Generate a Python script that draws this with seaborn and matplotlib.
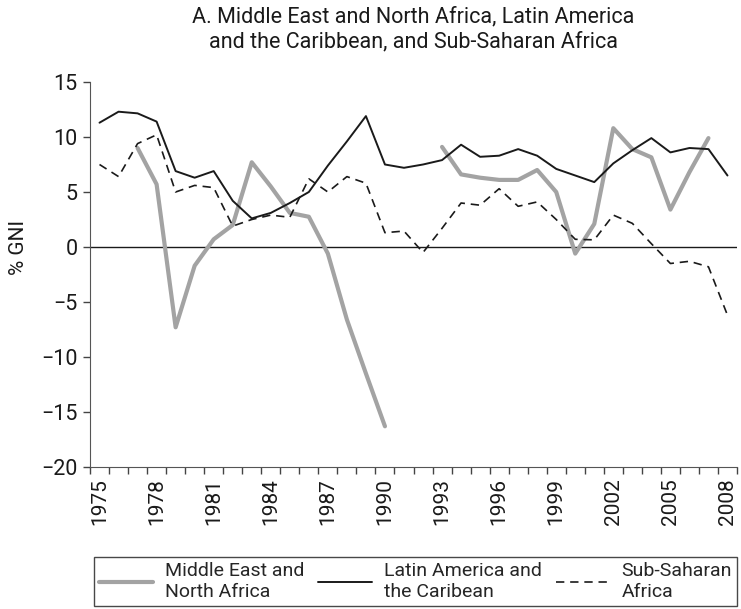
#---------------------------------- import libraries
import numpy as np
import pandas as pd
import matplotlib
matplotlib.use("Agg")
import matplotlib.pyplot as plt
import seaborn as sns
from matplotlib.ticker import MultipleLocator, FixedLocator

#---------------------------------- data (% of GNI)
years = list(range(1975, 2009))
latin_america = [11.3, 12.3, 12.15, 11.4, 6.9, 6.3, 6.9, 4.2, 2.6, 3.1,
                 4.0, 5.0, 7.4, 9.6, 11.9, 7.5, 7.2, 7.5, 7.9, 9.3,
                 8.2, 8.3, 8.9, 8.3, 7.1, 6.5, 5.9, 7.6, 8.8, 9.9,
                 8.6, 9.0, 8.9, 6.5]
sub_saharan = [7.5, 6.4, 9.4, 10.2, 5.0, 5.6, 5.4, 1.9, 2.5, 2.9,
               2.7, 6.2, 5.0, 6.4, 5.8, 1.3, 1.45, -0.5, 1.7, 4.0,
               3.8, 5.3, 3.7, 4.1, 2.5, 0.7, 0.65, 2.9, 2.15, 0.3,
               -1.5, -1.3, -1.8, -6.2]
mena = [np.nan, np.nan, 9.0, 5.7, -7.3, -1.7, 0.7, 2.0, 7.7, 5.5,
        3.1, 2.75, -0.6, -6.6, -11.5, -16.3, np.nan, np.nan, 9.1, 6.6,
        6.3, 6.1, 6.1, 7.0, 5.0, -0.6, 2.1, 10.8, 8.9, 8.15,
        3.4, 6.8, 9.9, np.nan]
year_labels = list(range(1975, 2009, 3))

df = pd.DataFrame({"year": years, "mena": mena,
                   "latam": latin_america, "ssa": sub_saharan})

#---------------------------------- style
sns.set_style("white")
plt.rcParams["font.family"] = ["Roboto", "DejaVu Sans"]
ink = "#1a1a1a"

fig = plt.figure(figsize=(7.41, 6.09), dpi=100)
ax = fig.add_axes([90 / 741, 1 - 467 / 609, (737 - 90) / 741, (467 - 82) / 609])

gray = "#a3a3a3"
# MENA has a gap 1991-1992, draw the two stretches separately
seg1 = df[df["year"] <= 1990]
seg2 = df[df["year"] >= 1993]
sns.lineplot(data=seg1, x="year", y="mena", color=gray, lw=3.0, ax=ax,
             label="Middle East and\nNorth Africa")
sns.lineplot(data=seg2, x="year", y="mena", color=gray, lw=3.0, ax=ax)
sns.lineplot(data=df, x="year", y="latam", color=ink, lw=1.4, ax=ax,
             label="Latin America and\nthe Caribean")
sns.lineplot(data=df, x="year", y="ssa", color=ink, lw=1.2, ax=ax,
             linestyle=(0, (5, 3.5)), label="Sub-Saharan\nAfrica")

ax.axhline(0, color=ink, lw=1.0, zorder=1)

#---------------------------------- axes
ax.set_xlim(1974.5, 2008.5)
ax.set_ylim(-20, 15)
ax.set_xticks(year_labels)
ax.set_xticklabels([str(y) for y in year_labels], rotation=90)
ax.xaxis.set_minor_locator(FixedLocator(np.arange(1974.5, 2009, 1)))
ax.tick_params(axis="x", which="major", length=0, labelsize=15, pad=8,
               colors=ink)
ax.tick_params(axis="x", which="minor", length=5, width=1, color="#444444",
               direction="out", bottom=True)
ax.yaxis.set_major_locator(MultipleLocator(5))
ax.tick_params(axis="y", length=5, width=1, color="#444444", direction="out",
               left=True, labelsize=15.5, labelcolor=ink, pad=4)
ax.set_xlabel("")
ax.set_ylabel("")
sns.despine(ax=ax)
ax.spines["left"].set_color("#555555")
ax.spines["bottom"].set_color("#555555")
ax.grid(False)

fig.text(18 / 741, 1 - 247 / 609, "% GNI", rotation=90, ha="center",
         va="center", fontsize=15, color=ink)

#---------------------------------- title
fig.text(413.5 / 741, 1 - 6 / 609,
         "A. Middle East and North Africa, Latin America\nand the Caribbean, and Sub-Saharan Africa",
         ha="center", va="top", fontsize=15.5, color=ink, linespacing=1.25)

#---------------------------------- legend
ax.get_legend().remove()
handles, labels = ax.get_legend_handles_labels()
leg = fig.legend(handles, labels, ncol=3, loc="lower left",
                 bbox_to_anchor=(94 / 741, 3 / 609, 643 / 741, 50 / 609),
                 mode="expand", frameon=True, fancybox=False,
                 fontsize=14, handlelength=2.8, borderaxespad=0,
                 borderpad=0.25, handletextpad=0.6, columnspacing=0.8,
                 labelspacing=0.2)
leg.get_frame().set_edgecolor(ink)
leg.get_frame().set_linewidth(1.0)

plt.savefig("out.png", dpi=100)
